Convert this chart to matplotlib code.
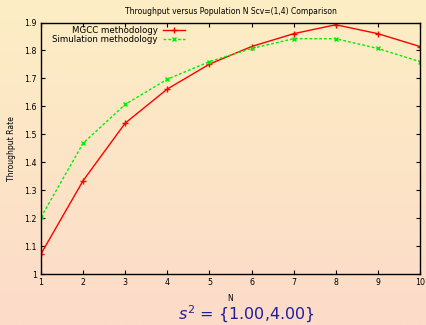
import numpy as np
import matplotlib
matplotlib.use("Agg")
import matplotlib.pyplot as plt

N = [1, 2, 3, 4, 5, 6, 7, 8, 9, 10]
mgcc = [1.072, 1.334, 1.540, 1.662, 1.751, 1.814, 1.860, 1.892, 1.860, 1.814]
sim = [1.203, 1.468, 1.607, 1.697, 1.760, 1.807, 1.842, 1.842, 1.807, 1.760]
yticks = [1, 1.1, 1.2, 1.3, 1.4, 1.5, 1.6, 1.7, 1.8, 1.9]
ytick_labels = ["1", "1.1", "1.2", "1.3", "1.4", "1.5", "1.6", "1.7", "1.8", "1.9"]

W, H = 426, 325
fig = plt.figure(figsize=(W / 100, H / 100), dpi=100)

# background gradient
top = np.array([253, 238, 196]) / 255
bot = np.array([252, 219, 201]) / 255
t = np.linspace(0, 1, 256)[:, None]
grad = (top[None, :] * (1 - t) + bot[None, :] * t)[:, None, :]
bg = fig.add_axes([0, 0, 1, 1], zorder=-10)
bg.imshow(grad, aspect="auto", extent=[0, 1, 0, 1])
bg.axis("off")

left, right, topy, boty = 41, 420, 22.5, 274
ax = fig.add_axes([left / W, 1 - boty / H, (right - left) / W, (boty - topy) / H])
ax.patch.set_alpha(0)

ax.plot(N, mgcc, color="#ff0000", lw=1.0, marker="+", ms=4, mew=1.0, label="MGCC methodology")
ax.plot(N, sim, color="#00ee00", lw=1.0, ls=(0, (2, 1.5)), marker="x", ms=3.5, mew=1.0,
        label="Simulation methodology")

ax.set_xlim(1, 10)
ax.set_ylim(1, 1.9)
ax.set_xticks(N)
ax.set_yticks(yticks)
ax.set_yticklabels(ytick_labels)
ax.tick_params(direction="in", length=3, width=0.8, labelsize=5.7, top=True, right=True,
               labeltop=False, labelright=False, pad=3)
for s in ax.spines.values():
    s.set_linewidth(1.0)

ax.set_title("Throughput versus Population N Scv=(1,4) Comparison", fontsize=5.5, pad=6)
ax.set_xlabel("N", fontsize=5.5, labelpad=5)
ax.set_ylabel("Throughput Rate", fontsize=5.5, labelpad=6)

leg = ax.legend(loc="upper right", bbox_to_anchor=((188 - left) / (right - left), 1.0),
                markerfirst=False, frameon=False,
                fontsize=6.2, handlelength=2.6, handletextpad=0.6, labelspacing=0.05,
                borderaxespad=0.15, borderpad=0.2)

plt.rcParams["mathtext.fontset"] = "dejavusans"
fig.text(246 / W, 1 - 320 / H, r"$s^2$ = {1.00,4.00}", fontsize=11.5, color="#1e1e9c",
         ha="center", va="baseline")

fig.savefig("out.png", dpi=100)
